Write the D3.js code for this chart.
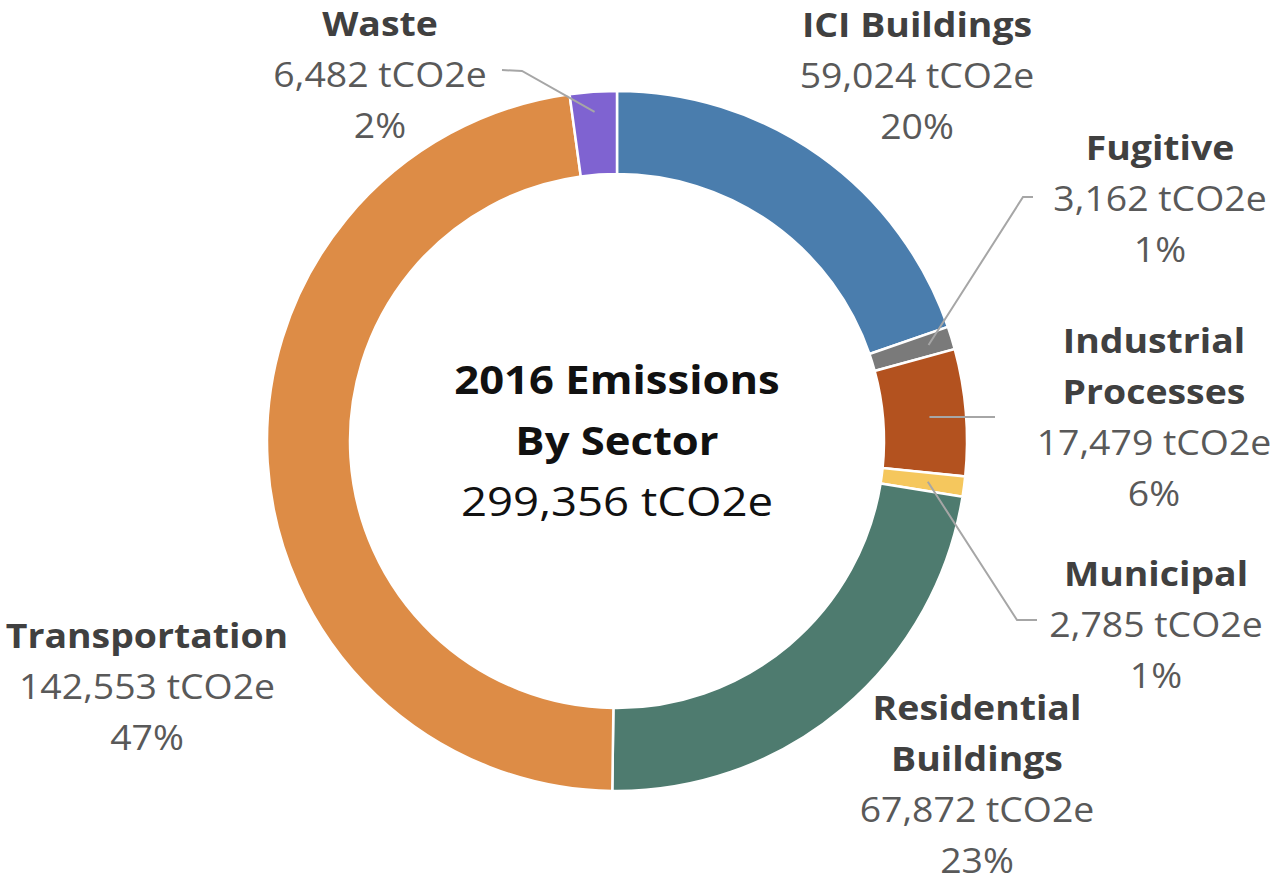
<!DOCTYPE html>
<html><head><meta charset="utf-8">
<script src="https://cdn.jsdelivr.net/npm/d3@7"></script>
<style>html,body{margin:0;padding:0;background:#fff;}</style>
</head><body>
<svg id="chart" width="1273" height="882"></svg>
<script>
const sectors = ["ICI Buildings","Fugitive","Industrial Processes","Municipal","Residential Buildings","Transportation","Waste"];
const emissions = [59024, 3162, 17479, 2785, 67872, 142553, 6482];
const percents = ["20%","1%","6%","1%","23%","47%","2%"];
const colors = ["#4a7dad","#7a7a7a","#b3521f","#f5c75d","#4e7b6f","#dd8c46","#7f63d1"];
const nameLines = [["ICI Buildings"],["Fugitive"],["Industrial","Processes"],["Municipal"],["Residential","Buildings"],["Transportation"],["Waste"]];
const centerTitle = ["2016 Emissions","By Sector"];
const centerTotal = "299,356 tCO2e";

const W = 1273, H = 882;
const cx = 617, cy = 441, R = 350, r = 267;
const svg = d3.select("#chart");
const g = svg.append("g").attr("transform", `translate(${cx},${cy})`);

const data = sectors.map((s,i)=>({name:s, value:emissions[i], pct:percents[i], color:colors[i], lines:nameLines[i]}));
const pie = d3.pie().value(d=>d.value).sort(null);
const arc = d3.arc().innerRadius(r).outerRadius(R);
const arcs = pie(data);

g.selectAll("path.slice").data(arcs).join("path")
  .attr("class","slice")
  .attr("d", arc)
  .attr("fill", d=>d.data.color)
  .attr("stroke","#fff").attr("stroke-width",2.5).attr("stroke-linejoin","miter");

const fmt = d3.format(",");
const labelPos = {
  "ICI Buildings": [917, 25],
  "Fugitive": [1160, 148],
  "Industrial Processes": [1154, 341],
  "Municipal": [1156, 574],
  "Residential Buildings": [977, 708],
  "Transportation": [147, 636],
  "Waste": [380, 24]
};
const lineH = 51;
const fontFam = "'Open Sans', 'Noto Sans', sans-serif";
const fs = 34, sx = 1.1;

const midR = (R + r) / 2;
function polar(angle, rad){ return [cx + rad*Math.sin(angle), cy - rad*Math.cos(angle)]; }
const leaders = {
  "Waste": d=>{ const a=(d.startAngle+d.endAngle)/2; const p=polar(a, R-20); return [[502,70],[522,71],p]; },
  "Fugitive": d=>{ const a=(d.startAngle+d.endAngle)/2; const p=polar(a, R-24); return [p,[1023,197],[1033,197]]; },
  "Industrial Processes": d=>{ const a=(d.startAngle+d.endAngle)/2; const p=polar(a, midR+5); return [[p[0], 417],[995,417]]; },
  "Municipal": d=>{ const a=(d.startAngle+d.endAngle)/2; const p=polar(a, midR+5); return [p,[1017,620],[1037,620]]; }
};
const line = d3.line();
arcs.forEach(d=>{
  const f = leaders[d.data.name];
  if(f){
    svg.append("path").attr("d", line(f(d))).attr("fill","none")
      .attr("stroke","#a6a6a6").attr("stroke-width",2);
  }
});

function addText(parent, x, y, txt, size, weight, fill, stretch){
  parent.append("text").attr("transform", `translate(${x},${y}) scale(${stretch},1)`)
    .attr("dy","0.35em").attr("font-size",size).attr("font-weight",weight)
    .attr("fill",fill).text(txt);
}

arcs.forEach(d=>{
  const [x,y0] = labelPos[d.data.name];
  const lbl = svg.append("g").attr("font-family", fontFam).attr("text-anchor","middle");
  let y = y0;
  d.data.lines.forEach(t=>{
    addText(lbl, x, y, t, fs, "bold", "#404040", sx);
    y += lineH;
  });
  addText(lbl, x, y, fmt(d.data.value)+" tCO2e", fs, "normal", "#595959", sx);
  y += lineH;
  addText(lbl, x, y, d.data.pct, fs, "normal", "#595959", sx);
});

const ct = svg.append("g").attr("font-family", fontFam).attr("text-anchor","middle");
addText(ct, cx, 380, centerTitle[0], 40, "bold", "#111", 1.09);
addText(ct, cx, 441, centerTitle[1], 40, "bold", "#111", 1.09);
addText(ct, cx, 502, centerTotal, 40, "normal", "#111", 1.14);
</script>
</body></html>
